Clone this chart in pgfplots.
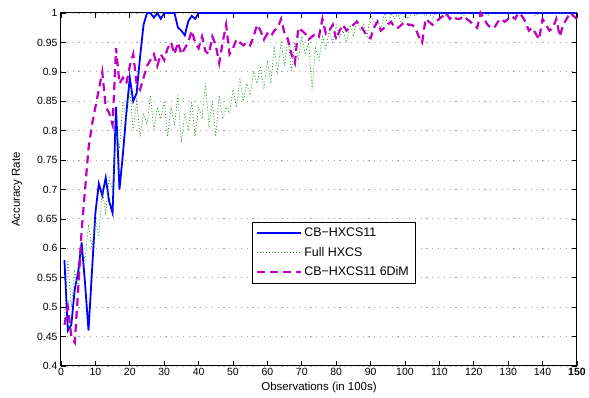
\documentclass[border=0pt]{standalone}
\usepackage{pgfplots}
\pgfplotsset{compat=1.18}
\usepackage{fontspec}
\setmainfont{Liberation Sans}
\definecolor{mblue}{rgb}{0,0,1}
\definecolor{mgreen}{rgb}{0.1,0.6,0.1}
\definecolor{mmag}{rgb}{0.75,0,0.75}
\begin{document}
\begin{tikzpicture}
\begin{axis}[
  scale only axis, width=516bp, height=353bp,
  xmin=0, xmax=150, ymin=0.4, ymax=1,
  clip=false,
  axis line style={line width=1bp},
  tick align=inside, major tick length=5bp,
  every tick/.style={black, line width=0.6bp},
  xtick={0,10,20,30,40,50,60,70,80,90,100,110,120,130,140,150},
  xticklabels={0,10,20,30,40,50,60,70,80,90,100,110,120,130,140,\textbf{150}},
  ytick={0.4,0.45,0.5,0.55,0.6,0.65,0.7,0.75,0.8,0.85,0.9,0.95,1},
  yticklabels={0.4,0.45,0.5,0.55,0.6,0.65,0.7,0.75,0.8,0.85,0.9,0.95,1},
  ymajorgrids,
  major grid style={gray!70, line width=0.8bp, dash pattern=on 1.2bp off 4.6bp},
  ticklabel style={font=\fontsize{10.5}{12}\selectfont},
  xticklabel style={yshift=1bp},
  label style={font=\fontsize{11.5}{13}\selectfont},
  xlabel={Observations (in 100s)},
  ylabel={Accuracy Rate},
  xlabel style={yshift=1bp},
  ylabel style={yshift=8bp},
  legend style={at={(0.37,0.408)}, anchor=north west, draw=black,
    font=\fontsize{12.5}{14}\selectfont, row sep=5bp, inner sep=4bp, fill=white},
  legend cell align=left,
  legend image code/.code={\draw[#1] plot coordinates {(0bp,0bp) (22bp,0bp) (44bp,0bp)};},
]
\addplot[mblue, line width=1.8bp] coordinates {
(1,0.58)(2,0.46)(3,0.47)(4,0.53)(5,0.56)(6,0.61)(7,0.54)(8,0.46)(9,0.56)(10,0.66)
(11,0.71)(12,0.69)(13,0.72)(14,0.68)(15,0.66)(16,0.84)(17,0.70)(18,0.76)(19,0.83)(20,0.89)
(21,0.85)(22,0.864)(23,0.926)(24,0.98)(25,1.0)(26,1.0)(27,0.992)(28,1.0)(29,0.99)(30,1.0)
(31,1.0)(32,1.0)(33,1.0)(34,0.975)(35,0.97)(36,0.962)(37,0.986)(38,0.995)(39,0.99)(40,1.0)
(150,1.0)};
\addlegendentry{CB−HXCS11}
\addplot[mgreen, line width=0.7bp, dash pattern=on 1bp off 2bp] coordinates {
(1,0.48)(2,0.58)(3,0.50)(4,0.56)(5,0.53)(6,0.60)(7,0.58)(8,0.64)(9,0.60)(10,0.65)
(11,0.62)(12,0.70)(13,0.66)(14,0.72)(15,0.70)(16,0.80)(17,0.77)(18,0.85)(19,0.82)(20,0.87)
(21,0.80)(22,0.85)(23,0.79)(24,0.83)(25,0.81)(26,0.86)(27,0.80)(28,0.84)(29,0.82)(30,0.85)
(31,0.79)(32,0.84)(33,0.81)(34,0.86)(35,0.78)(36,0.83)(37,0.80)(38,0.85)(39,0.79)(40,0.84)
(41,0.82)(42,0.88)(43,0.81)(44,0.85)(45,0.79)(46,0.86)(47,0.82)(48,0.84)(49,0.83)(50,0.87)
(51,0.84)(52,0.89)(53,0.85)(54,0.88)(55,0.86)(56,0.90)(57,0.88)(58,0.91)(59,0.87)(60,0.92)
(61,0.88)(62,0.94)(63,0.90)(64,0.95)(65,0.91)(66,0.96)(67,0.90)(68,0.95)(69,0.92)(70,0.96)
(71,0.93)(72,0.95)(73,0.87)(74,0.94)(75,0.92)(76,0.96)(77,0.94)(78,0.97)(79,0.95)(80,0.98)
(81,0.96)(82,0.97)(83,0.95)(84,0.98)(85,0.96)(86,0.99)(87,0.97)(88,0.98)(89,0.96)(90,1.0)
(91,0.98)(92,0.99)(93,0.97)(94,1.0)(95,0.98)(96,1.0)(97,0.99)(98,1.0)(99,0.98)(100,1.0)
(101,0.99)(102,1.0)(103,0.995)(104,1.0)(105,1.0)(106,0.995)(107,1.0)(108,0.99)(109,1.0)(110,1.0)
(111,1.0)(112,0.995)(113,1.0)(114,1.0)(115,1.0)(116,1.0)(117,0.995)(118,1.0)(119,1.0)(120,1.0)
(121,1.0)(122,1.0)(123,1.0)(124,0.995)(125,1.0)(126,1.0)(127,1.0)(128,1.0)(129,1.0)(130,1.0)
(131,1.0)(132,1.0)(133,1.0)(134,1.0)(135,1.0)(136,1.0)(137,1.0)(138,0.995)(139,1.0)(140,1.0)
(141,1.0)(142,1.0)(143,1.0)(144,1.0)(145,1.0)(146,1.0)(147,1.0)(148,1.0)(149,1.0)(150,1.0)};
\addlegendentry{Full HXCS}
\addplot[mmag, line width=2.2bp, dash pattern=on 8bp off 5bp] coordinates {
(1,0.47)(2,0.50)(3,0.45)(4,0.44)(5,0.53)(6,0.63)(7,0.70)(8,0.77)(9,0.81)(10,0.84)
(11,0.87)(12,0.90)(13,0.84)(14,0.83)(15,0.81)(16,0.94)(17,0.88)(18,0.89)(19,0.88)(20,0.91)
(21,0.93)(22,0.88)(23,0.87)(24,0.89)(25,0.91)(26,0.92)(27,0.93)(28,0.91)(29,0.93)(30,0.92)
(31,0.94)(32,0.95)(33,0.93)(34,0.95)(35,0.93)(36,0.94)(37,0.95)(38,0.97)(39,0.95)(40,0.94)
(41,0.96)(42,0.935)(43,0.93)(44,0.96)(45,0.945)(46,0.915)(47,0.95)(48,0.98)(49,0.93)(50,0.94)
(51,0.955)(52,0.95)(53,0.945)(54,0.95)(55,0.945)(56,0.96)(57,0.98)(58,0.97)(59,0.955)(60,0.965)
(61,0.96)(62,0.97)(63,0.975)(64,0.99)(65,0.965)(66,0.955)(67,0.93)(68,0.915)(69,0.975)(70,0.97)
(71,0.965)(72,0.955)(73,0.96)(74,0.965)(75,0.96)(76,0.99)(77,0.965)(78,0.97)(79,0.98)(80,0.955)
(81,0.97)(82,0.98)(83,0.97)(84,0.975)(85,0.98)(86,0.985)(87,0.98)(88,0.97)(89,0.96)(90,0.957)
(91,0.975)(92,0.985)(93,0.97)(94,0.975)(95,0.98)(96,0.985)(97,0.975)(98,0.975)(99,0.98)(100,0.985)
(101,0.98)(102,0.98)(103,0.975)(104,0.96)(105,0.95)(106,0.99)(107,0.985)(108,0.98)(109,0.985)(110,0.99)
(111,0.995)(112,1.0)(113,0.99)(114,0.995)(115,0.99)(116,0.99)(117,0.995)(118,0.99)(119,0.985)(120,0.98)
(121,0.975)(122,1.0)(123,0.99)(124,0.98)(125,0.975)(126,0.975)(127,0.985)(128,0.99)(129,0.985)(130,0.99)
(131,0.995)(132,0.99)(133,1.0)(134,0.995)(135,0.985)(136,0.97)(137,0.975)(138,0.965)(139,0.955)(140,0.99)
(141,0.98)(142,0.97)(143,0.975)(144,0.99)(145,0.96)(146,0.98)(147,0.99)(148,1.0)(149,0.995)(150,0.99)};
\addlegendentry{CB−HXCS11 6DiM}
\end{axis}
\path ([xshift=-61bp,yshift=-32bp]current axis.south west) rectangle ([xshift=12bp,yshift=13bp]current axis.north east);
\end{tikzpicture}
\end{document}
